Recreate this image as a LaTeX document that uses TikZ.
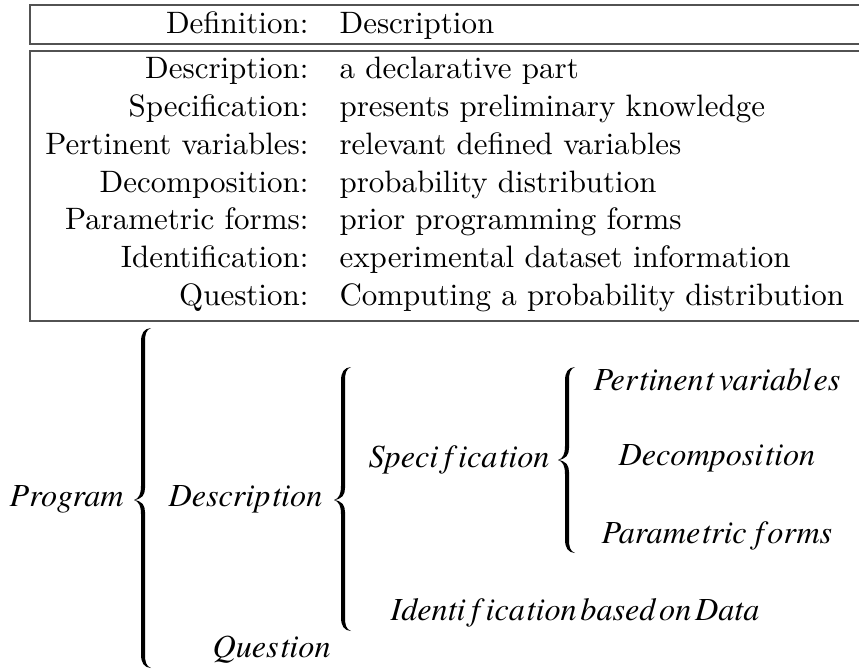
\documentclass[tikz,border=0pt]{standalone}
\usepackage{fontspec}
\newfontfamily\tmsfont{texgyretermes-italic.otf}
% small gap that the italic t gets in the structure labels
\newcommand\tk{\kern0.6pt}
\tikzset{
  x=0.3279pt, y=-0.3279pt,
  rule/.style={draw=black!68, line width=0.42pt},
  lab/.style={inner sep=0pt, anchor=base east, font=\fontsize{10.15}{12}\selectfont},
  val/.style={inner sep=0pt, anchor=base west, font=\fontsize{10.15}{12}\selectfont},
  itl/.style={inner sep=0pt, anchor=base west, font=\tmsfont\fontsize{10.55}{12}\selectfont},
  bracefill/.style={fill=black}
}
% a filled curly brace: bar at x=#1, top #2, cusp #3, bottom #4
\newcommand\drawbrace[4]{%
  \fill[bracefill] (#1+8,#2) .. controls (#1+1,#2+0.5) and (#1-2,#2+5) .. (#1-2,#2+14)
    -- (#1-2,#3-14) .. controls (#1-2,#3-6) and (#1-4,#3-1.5) .. (#1-9,#3)
    .. controls (#1-4,#3+1.5) and (#1-2,#3+6) .. (#1-2,#3+14)
    -- (#1-2,#4-14) .. controls (#1-2,#4-5) and (#1+1,#4-0.5) .. (#1+8,#4)
    .. controls (#1+3,#4-2) and (#1+2,#4-6) .. (#1+2,#4-14)
    -- (#1+2,#3+12) .. controls (#1+2,#3+5) and (#1-1,#3+1) .. (#1-9,#3)
    .. controls (#1-1,#3-1) and (#1+2,#3-5) .. (#1+2,#3-12)
    -- (#1+2,#2+14) .. controls (#1+2,#2+6) and (#1+3,#2+2) .. (#1+8,#2) -- cycle;}
\begin{document}
\begin{tikzpicture}
\useasboundingbox (0,0) rectangle (859,671);
\clip (0,0) rectangle (859,671);
\fill[white] (0,0) rectangle (859,671);

% header box and body box of the definitions table
\draw[rule] (30,5) rectangle (900,44);
\draw[rule] (30,51) rectangle (900,321);

\node[lab] (hdlab) at (309,33) {Definition:};
\node[val] (hdval) at (339,33) {Description};

\foreach \n/\yy/\l/\v in {
  1/78/Description:/a declarative part,
  2/116/Specification:/presents preliminary knowledge,
  3/154/Pertinent variables:/relevant defined variables,
  4/192/Decomposition:/probability distribution,
  5/229/Parametric forms:/prior programming forms,
  6/267/Identification:/experimental dataset information,
  7/305/Question:/Computing a probability distribution}{
  \node[lab] (lab\n) at (309,\yy) {\l};
  \node[val] (val\n) at (339,\yy) {\v};
}

% program structure
\node[itl] (prog) at (9,506) {Program};
\drawbrace{143}{328}{500}{668}
\node[itl] (desc) at (168,506) {Descrip\tk tion};
\drawbrace{343}{367}{500}{631}
\node[itl] (spec) at (368,467) {Speci\kern1.8pt f\kern1.8pt ica\tk tion};
\drawbrace{567}{367}{460}{553}
\node[itl] (pert) at (593,390) {Per\tk tinen\tk t\kern1.5pt variabl\kern0.8pt es};
\node[itl] (deco) at (618,465) {Decomposi\tk tion};
\node[itl] (para) at (601,543) {Parame\tk tric f\kern1.2pt orms};
\node[itl] (iden) at (390,620) {Identi\kern1.8pt f\kern1.8pt ica\tk tion\kern1.2pt based\kern1.2pt on\kern1.2pt Data};
\node[itl] (ques) at (212,657) {Ques\tk tion};
\end{tikzpicture}
\end{document}
